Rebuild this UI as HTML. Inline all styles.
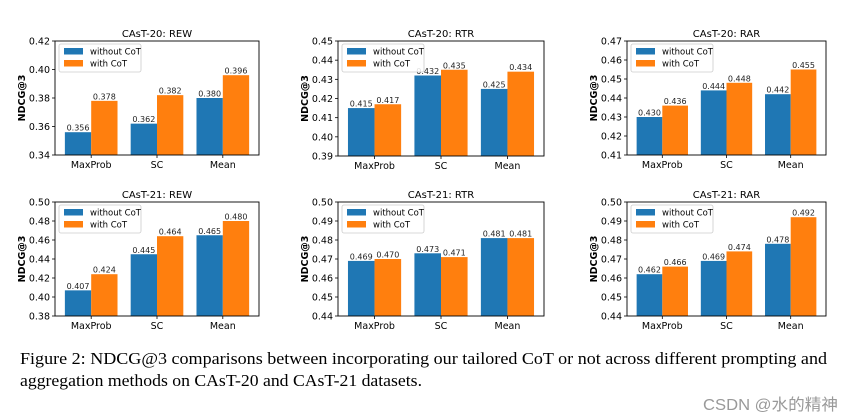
<!DOCTYPE html>
<html><head><meta charset="utf-8"><style>
body{margin:0;background:#fff;}
svg{display:block;}
</style></head><body>
<svg id="fig" width="853" height="415" viewBox="0 0 853 415" font-family="'DejaVu Sans', sans-serif">
<text x="20" y="364" font-family="'Liberation Serif', serif" font-size="17" textLength="807" lengthAdjust="spacingAndGlyphs" fill="#000">Figure 2: NDCG@3 comparisons between incorporating our tailored CoT or not across different prompting and</text>
<text x="20" y="386" font-family="'Liberation Serif', serif" font-size="17" textLength="402" lengthAdjust="spacingAndGlyphs" fill="#000">aggregation methods on CAsT-20 and CAsT-21 datasets.</text>
<text x="703" y="410" font-family="'Liberation Sans','Noto Sans CJK SC',sans-serif" font-size="16" textLength="135" lengthAdjust="spacingAndGlyphs" fill="#999">CSDN @水的精神</text>
</svg>
<script>
const categories = ["MaxProb","SC","Mean"];
const titles = ["CAsT-20: REW","CAsT-20: RTR","CAsT-20: RAR","CAsT-21: REW","CAsT-21: RTR","CAsT-21: RAR"];
const withoutCoT = [[0.356,0.362,0.380],[0.415,0.432,0.425],[0.430,0.444,0.442],[0.407,0.445,0.465],[0.469,0.473,0.481],[0.462,0.469,0.478]];
const withCoT = [[0.378,0.382,0.396],[0.417,0.435,0.434],[0.436,0.448,0.455],[0.424,0.464,0.480],[0.470,0.471,0.481],[0.466,0.474,0.492]];
const yMins = [0.34,0.39,0.41,0.38,0.44,0.44];
const yMaxs = [0.42,0.45,0.47,0.50,0.50,0.50];
const ySteps = [0.02,0.01,0.01,0.02,0.01,0.01];

const NS="http://www.w3.org/2000/svg";
const svg=document.getElementById('fig');
function mk(tag,attrs,parent){const e=document.createElementNS(NS,tag);for(const k in attrs)e.setAttribute(k,attrs[k]);(parent||svg).appendChild(e);return e;}
const boxes=[[55,259,41,155],[338,544,41,156],[627,826,41,155],[55,259,202,316],[338,544,202,316],[627,826,202,316]];
const slugs=["cast20-rew","cast20-rtr","cast20-rar","cast21-rew","cast21-rtr","cast21-rar"];
for(let c=0;c<6;c++){
  const [x0,x1,y0,y1]=boxes[c];
  const g=mk('g',{});
  
  
  const xs=v=>x0+(v+0.55)/3.1*(x1-x0);
  const ys=v=>y1-(v-yMins[c])/(yMaxs[c]-yMins[c])*(y1-y0);
  const t=mk('text',{x:(x0+x1)/2,y:y0-4,'text-anchor':'middle','font-size':10,fill:'#000'},g);
  t.textContent=titles[c];
  
  
  const yl=mk('text',{x:0,y:0,transform:`translate(${x0-30},${(y0+y1)/2}) rotate(-90)`,'text-anchor':'middle','font-size':9.5,'font-weight':'bold',fill:'#000'},g);
  yl.textContent='NDCG@3';
  
  
  const n=Math.round((yMaxs[c]-yMins[c])/ySteps[c]);
  for(let i=0;i<=n;i++){
    const v=yMins[c]+i*ySteps[c];const y=ys(v);
    mk('line',{x1:x0-3,x2:x0,y1:y,y2:y,stroke:'#000','stroke-width':0.8},g);
    const tl=mk('text',{x:x0-5,y:y+3.5,'text-anchor':'end','font-size':9.5,fill:'#000'},g);
    tl.textContent=v.toFixed(2);
    
    
  }
  const bw=0.4;
  for(let i=0;i<3;i++){
    const series=[[withoutCoT[c][i],'#1f77b4',-bw],[withCoT[c][i],'#ff7f0e',0]];
    series.forEach(([v,col,off],s)=>{
      const bx=xs(i+off),bx2=xs(i+off+bw),by=ys(v);
      const r=mk('rect',{x:bx,y:by,width:bx2-bx,height:y1-by,fill:col},g);
      
      
      const lt=mk('text',{x:(bx+bx2)/2,y:by-1.5,'text-anchor':'middle','font-size':8,fill:'#222'},g);
      lt.textContent=v.toFixed(3);
      
      
    });
    mk('line',{x1:xs(i),x2:xs(i),y1:y1,y2:y1+3,stroke:'#000','stroke-width':0.8},g);
    const xl=mk('text',{x:xs(i),y:y1+13,'text-anchor':'middle','font-size':9.5,fill:'#000'},g);
    xl.textContent=categories[i];
    
    
  }
  const fr=mk('rect',{x:x0,y:y0,width:x1-x0,height:y1-y0,fill:'none',stroke:'#000','stroke-width':0.9},g);
  
  
  const lg=mk('g',{},g);
  
  
  mk('rect',{x:x0+4,y:y0+3,width:82,height:28,fill:'#fff','fill-opacity':0.85,stroke:'#ccc','stroke-width':0.8,rx:2},lg);
  [['without CoT','#1f77b4'],['with CoT','#ff7f0e']].forEach(([lab,col],k)=>{
    mk('rect',{x:x0+9,y:y0+7+k*12,width:19,height:6.5,fill:col},lg);
    const tx=mk('text',{x:x0+35,y:y0+13.5+k*12,'font-size':8.5,fill:'#000'},lg);
    tx.textContent=lab;
    
    
  });
}
</script>
</body></html>
